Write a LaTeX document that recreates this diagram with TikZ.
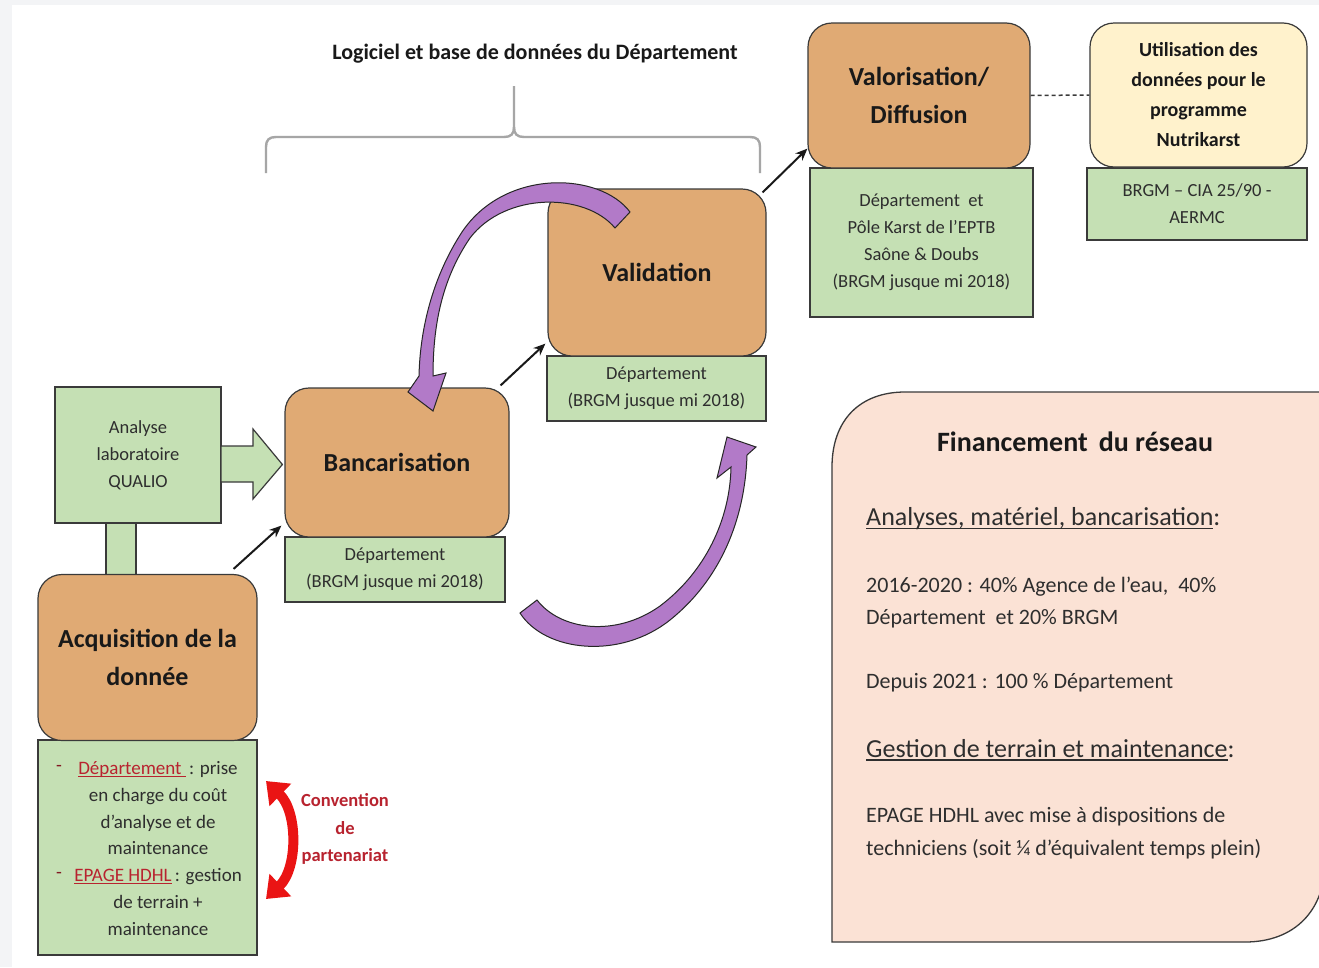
\documentclass[tikz,border=0pt]{standalone}
\usepackage{fontspec}
\setmainfont{Carlito}
\usetikzlibrary{arrows.meta}
\definecolor{orng}{HTML}{E0AA74}
\definecolor{grn}{HTML}{C5E0B4}
\definecolor{ylw}{HTML}{FFF2CC}
\definecolor{pch}{HTML}{FBE2D5}
\definecolor{purp}{HTML}{B27AC8}
\definecolor{redarr}{HTML}{EA1414}
\definecolor{dred}{HTML}{B8232F}
\definecolor{bord}{HTML}{3A3A3A}
\definecolor{txtg}{HTML}{2E2E2E}
\definecolor{bggray}{HTML}{F3F4F6}
\definecolor{bracegray}{HTML}{A6A6A6}
\newcommand\myul[1]{\setbox0=\hbox{#1}\rlap{\rule[-0.13em]{\wd0}{0.06em}}\box0}
\begin{document}
\begin{tikzpicture}[x=1pt,y=-1pt,
  obox/.style={draw=bord, line width=1.2pt, fill=orng, rounded corners=24pt, align=center,
     font=\fontsize{26}{38}\selectfont\bfseries, text=black!90, inner sep=0pt},
  ybox/.style={obox, fill=ylw, font=\fontsize{20}{30}\selectfont\bfseries},
  gbox/.style={draw=bord, line width=1.2pt, fill=grn, align=center,
     font=\fontsize{18.5}{27}\selectfont, text=txtg, inner sep=0pt},
  flow/.style={-{Stealth[length=12pt,width=10pt]}, line width=2pt, black!90},
  purparr/.style={fill=purp, draw=black!85, line width=1pt},
  ftxt/.style={anchor=west, inner sep=0pt, text=txtg, font=\fontsize{22}{32}\selectfont},
  fhead/.style={anchor=west, inner sep=0pt, text=txtg, font=\fontsize{26}{32}\selectfont}
]
\useasboundingbox (0,0) rectangle (1319,967);
\fill[bggray] (0,0) rectangle (1319,967);
\fill[white] (12,5) rectangle (1319,967);

% brace and title
\node[font=\fontsize{22}{26}\selectfont\bfseries, text=black!90] (title) at (535,54) {Logiciel et base de données du Département};
\draw[bracegray, line width=2.4pt]
  (266,173) -- (266,147) .. controls (266,140) and (269,137) .. (276,137) -- (504,137)
  .. controls (511,137) and (514,134) .. (514,127) -- (514,86);
\draw[bracegray, line width=2.4pt]
  (514,127) .. controls (514,134) and (517,137) .. (524,137) -- (750,137)
  .. controls (757,137) and (760,140) .. (760,147) -- (760,173);

% financing panel
\draw[bord, line width=1.3pt, fill=pch]
  (832,942) -- (832,467) .. controls (832,420) and (860,392) .. (905,392) -- (1325,392)
  -- (1325,862) .. controls (1325,910) and (1295,942) .. (1245,942) -- cycle;
\node[anchor=center, inner sep=0pt, text=black!90, font=\fontsize{28}{32}\selectfont\bfseries] (ftitle) at (1075,442) {Financement\, du réseau};
\node[fhead] (f1) at (866,519) {\myul{Analyses, matériel, bancarisation}:};
\node[ftxt] (f2) at (866,587) {2016-2020 : 40\% Agence de l’eau,\ \ 40\%};
\node[ftxt] (f3) at (866,619) {Département\ \ et 20\% BRGM};
\node[ftxt] (f4) at (866,683) {Depuis 2021 : 100 \% Département};
\node[fhead] (f5) at (866,750) {\myul{Gestion de terrain et maintenance}:};
\node[ftxt] (f6) at (866,817) {EPAGE HDHL avec mise à dispositions de};
\node[ftxt] (f7) at (866,849) {techniciens (soit ¼ d’équivalent temps plein)};

% connector between Analyse and Acquisition
\draw[bord, line width=1.2pt, fill=grn] (106,523) rectangle (136,576);

% boxes
\node[gbox, minimum width=166pt, minimum height=136pt] (ana) at (138,455) {Analyse\\laboratoire\\QUALIO};
\node[gbox, minimum width=219pt, minimum height=215pt] (acqg) at (147.5,847.5) {};
\node[obox, minimum width=219pt, minimum height=166pt] (acq) at (147.5,657.5) {Acquisition de la\\donnée};
\node[gbox, minimum width=220pt, minimum height=65pt] (bancg) at (395,569.5) {Département\\(BRGM jusque mi 2018)};
\node[obox, minimum width=224pt, minimum height=149pt] (banc) at (397,462.5) {Bancarisation};
\node[gbox, minimum width=219pt, minimum height=65pt] (valg) at (656.5,388.5) {Département\\(BRGM jusque mi 2018)};
\node[obox, minimum width=218pt, minimum height=167pt] (val) at (657,272.5) {Validation};
\node[gbox, minimum width=223pt, minimum height=149pt] (valog) at (921.5,242.5) {Département\ \ et\\Pôle Karst de l’EPTB\\Saône \& Doubs\\(BRGM jusque mi 2018)};
\node[obox, minimum width=222pt, minimum height=145pt] (valo) at (919,95.5) {Valorisation/\\Diffusion};
\node[gbox, minimum width=220pt, minimum height=72pt] (utilg) at (1197,204) {BRGM – CIA 25/90 -\\AERMC};
\node[ybox, minimum width=217pt, minimum height=144pt] (util) at (1198.5,95) {Utilisation des\\données pour le\\programme\\Nutrikarst};

% text of acquisition green box
\node[align=center, inner sep=0pt, text=txtg, font=\fontsize{19}{26.8}\selectfont] (acqt) at (158,848.5)
 {{\color{dred}\myul{Département\ }}\,: prise\\en charge du coût\\d’analyse et de\\maintenance\\{\color{dred}\myul{EPAGE\ HDHL}}\,: gestion\\de terrain +\\maintenance};
\node[text=dred!70!black, inner sep=0pt, font=\fontsize{19}{26}\selectfont] (d1) at (59,768) {-};
\node[text=dred!70!black, inner sep=0pt, font=\fontsize{19}{26}\selectfont] (d2) at (59,875) {-};

% hollow green arrow
\coordinate (ha) at (221,464);
\draw[bord, line width=1.2pt, fill=grn]
  ([shift={(0,-18)}]ha) -- ([shift={(32,-18)}]ha) -- ([shift={(32,-35)}]ha)
  -- ([shift={(-2,2)}]banc.west) -- ([shift={(32,35)}]ha) -- ([shift={(32,18)}]ha)
  -- ([shift={(0,18)}]ha) -- cycle;

% dashed link
\draw[bord, line width=1.5pt, dash pattern=on 4pt off 3pt] (valo.east) -- (util.west);

% flow arrows
\draw[flow] ([shift={(-24,-5)}]acq.north east) -- ([shift={(-3,-12)}]banc.south west);
\draw[flow] ([shift={(-9,-2)}]banc.north east) -- ([shift={(-2,-13)}]val.south west);
\draw[flow] ([shift={(-4,4)}]val.north east) -- ([shift={(0,-20)}]valo.south west);

% purple curved arrows
\draw[purparr]
  (630,212) .. controls (600,172) and (505,168) .. (462,232)
  .. controls (432,278) and (420,330) .. (419,376) -- (408,392) -- (433,411) -- (446,373) -- (433,376)
  .. controls (433,330) and (440,282) .. (470,238)
  .. controls (505,192) and (585,192) .. (615,228) -- cycle;
\draw[purparr]
  (520,613) .. controls (545,652) and (620,660) .. (670,620)
  .. controls (720,580) and (745,520) .. (747,455) -- (756,447) -- (727,437) -- (717,478) -- (731,467)
  .. controls (730,520) and (705,572) .. (660,606)
  .. controls (615,638) and (560,630) .. (537,600) -- cycle;

% red double arrow and label
\coordinate (r1) at (266,781);
\coordinate (r2) at (266,899);
\draw[redarr, line width=10pt, {Triangle[length=20pt,width=30pt]}-{Triangle[length=20pt,width=30pt]}]
  (r1) .. controls (298,812) and (298,868) .. (r2);
\node[align=center, inner sep=0pt, text=dred, font=\fontsize{18.5}{27.5}\selectfont\bfseries] (conv) at (345,829) {Convention\\de\\partenariat};
\end{tikzpicture}
\end{document}
